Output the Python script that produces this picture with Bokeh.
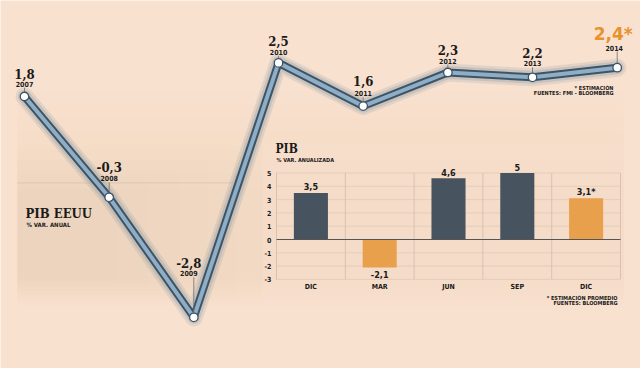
from bokeh.plotting import figure
from bokeh.models import Range1d, Label
from bokeh.core.properties import value
from bokeh.embed import file_html
from bokeh.resources import INLINE

# ---------------- data ----------------
years = [2007, 2008, 2009, 2010, 2011, 2012, 2013, 2014]
gdp = [1.8, -0.3, -2.8, 2.5, 1.6, 2.3, 2.2, 2.4]
gdp_estimate = [False, False, False, False, False, False, False, True]

quarters = ["DIC", "MAR", "JUN", "SEP", "DIC"]
q_growth = [3.5, -2.1, 4.6, 5.0, 3.1]
q_estimate = [False, False, False, False, True]
q_ticks = [5, 4, 3, 2, 1, 0, -1, -2, -3]

# ---------------- style / layout ----------------
BG = "#F9E1D0"
TAN = "#E2C9A8"
DARK = "#3D5467"
LIGHT = "#8FAEC6"
ORANGE = "#E9A04C"
ORANGE_TXT = "#E8922E"
BAR_DARK = "#47535E"
GRID = "#CDB8A6"
SERIF = "DejaVu Serif Condensed"
SANS_C = "DejaVu Sans Condensed"

OX, OY, W, H = 0, 0, 640, 368
# main chart pixel geometry (image coords)
X0PX, PPY = 24.0, 84.67
Y0PX, PPU = 182.4, 48.0
# inset geometry
IX0, ICW = 276.0, 68.8
IY0, IPU = 239.0, 13.3

# label offsets (pixels) for main chart
val_dy = [-23, -30, -54, -22, -25, -23, -24, -34]
year_dy = [-13, -19, -44, -11, -13, -12, -14, -20]
lab_dx = [0, 0, -5, 0, 0, 0, 0, -3]


def mx(px):
    return years[0] + (px - X0PX) / PPY


def my(py):
    return (Y0PX - py) / PPU


def fmt(v):
    if float(v).is_integer():
        return str(int(v))
    return ("%.1f" % v).replace(".", ",")


p = figure(
    width=W, height=H,
    x_range=Range1d(mx(OX), mx(OX + W)),
    y_range=Range1d(my(OY + H), my(OY)),
    output_backend="svg", toolbar_location=None,
    min_border=0, x_axis_location=None, y_axis_location=None,
    background_fill_color=BG, border_fill_color=BG, outline_line_color=None,
)
p.grid.visible = False
p.extra_x_ranges = {"bx": Range1d(-(IX0 - OX) / ICW, (OX + W - IX0) / ICW)}
p.extra_y_ranges = {"by": Range1d(-(OY + H - IY0) / IPU, (IY0 - OY) / IPU)}

# background shading panels (soft gradient)
for k in range(8):
    p.quad(left=mx(17), right=mx(623), top=my(90 + 14 * k), bottom=my(306 - 4 * k),
           fill_color=TAN, fill_alpha=0.035, line_color=None)
for k in range(5):
    p.quad(left=mx(17), right=mx(17 + 220 - 30 * k), top=my(150 + 10 * k),
           bottom=my(300 - 5 * k), fill_color=TAN, fill_alpha=0.04, line_color=None)
p.quad(left=mx(262), right=mx(623), top=my(143), bottom=my(306),
       fill_color=BG, fill_alpha=0.45, line_color=None)

# zero dotted line of main chart
p.segment(x0=mx(17), x1=mx(232), y0=0, y1=0, line_color=GRID, line_width=1,
          line_dash="1 1")

# ---------------- main line ----------------
p.line(years, gdp, line_color="#8E9AA3", line_alpha=0.2, line_width=18,
       line_join="round", line_cap="round")
p.line(years, gdp, line_color="#8E9AA3", line_alpha=0.3, line_width=13,
       line_join="round", line_cap="round")
p.line(years, gdp, line_color=DARK, line_width=8, line_join="round")
p.line(years, gdp, line_color=LIGHT, line_width=4, line_join="round")

# connector ticks from point to year label
p.segment(x0=years, x1=years,
          y0=[v + 4.5 / PPU for v in gdp],
          y1=[v + (-d - 4) / PPU for v, d in zip(gdp, year_dy)],
          line_color="#6B6B6B", line_width=0.8)

p.scatter(years, gdp, size=8.5, fill_color="white", line_color=DARK,
          line_width=1.3)

# value labels
norm = [i for i in range(len(years)) if not gdp_estimate[i]]
est = [i for i in range(len(years)) if gdp_estimate[i]]
p.text(x=[years[i] for i in norm], y=[gdp[i] for i in norm],
       text=[fmt(gdp[i]) for i in norm],
       x_offset=[lab_dx[i] for i in norm], y_offset=[val_dy[i] for i in norm],
       text_align="center", text_baseline="middle",
       text_font=value(SERIF), text_font_style="bold", text_font_size="13px",
       text_color="#1A1A1A")
p.text(x=[years[i] for i in est], y=[gdp[i] for i in est],
       text=[fmt(gdp[i]) + "*" for i in est],
       x_offset=[lab_dx[i] - 1 for i in est], y_offset=[val_dy[i] for i in est],
       text_align="center", text_baseline="middle",
       text_font=value("DejaVu Sans"), text_font_style="bold", text_font_size="17px",
       text_color=ORANGE_TXT)
# year labels
p.text(x=years, y=gdp, text=[str(y) for y in years],
       x_offset=lab_dx, y_offset=year_dy,
       text_align="center", text_baseline="middle",
       text_font=value(SANS_C), text_font_style="bold", text_font_size="7px",
       text_color="#1A1A1A")


# ---------------- annotations (screen units) ----------------
def lab(px, py, txt, size, font=SANS_C, align="left", color="#1A1A1A", style="bold"):
    p.add_layout(Label(x=px - OX, y=H - (py - OY), x_units="screen", y_units="screen",
                       text=txt, text_font=font, text_font_size=size,
                       text_font_style=style, text_color=color,
                       text_align=align, text_baseline="middle"))


lab(25, 213, "PIB EEUU", "13px", font=SERIF)
lab(26, 224, "% VAR. ANUAL", "6px")
lab(613, 87, "* ESTIMACIÓN", "5.5px", align="right")
lab(613, 92.5, "FUENTES: FMI - BLOOMBERG", "5.5px", align="right")
lab(275, 148, "PIB", "12px", font=SERIF)
lab(276, 159, "% VAR. ANUALIZADA", "5.5px")
lab(617, 297, "* ESTIMACIÓN PROMEDIO", "5.5px", align="right")
lab(617, 302.5, "FUENTES: BLOOMBERG", "5.5px", align="right")

# ---------------- inset bar chart ----------------
nq = len(quarters)
kw = dict(x_range_name="bx", y_range_name="by")
p.segment(x0=0, x1=nq, y0=[t for t in q_ticks if t != 0], y1=[t for t in q_ticks if t != 0],
          line_color=GRID, line_width=0.8, line_dash="1 1", **kw)
p.segment(x0=list(range(nq + 1)), x1=list(range(nq + 1)), y0=min(q_ticks), y1=max(q_ticks),
          line_color="#D8C2B0", line_width=1, **kw)
centers = [i + 0.5 for i in range(nq)]
colors = [ORANGE if (v < 0 or e) else BAR_DARK for v, e in zip(q_growth, q_estimate)]
p.vbar(x=centers, top=q_growth, bottom=0, width=0.495, fill_color=colors,
       line_color=None, **kw)
p.segment(x0=0, x1=nq, y0=0, y1=0, line_color="#555555", line_width=1.2, **kw)

# tick labels
p.text(x=0, y=q_ticks, text=[str(t) for t in q_ticks], x_offset=-5,
       text_align="right", text_baseline="middle", text_font=value(SANS_C),
       text_font_style="bold", text_font_size="7px", text_color="#1A1A1A", **kw)
# category labels
p.text(x=centers, y=min(q_ticks), text=quarters, y_offset=8,
       text_align="center", text_baseline="middle", text_font=value(SANS_C),
       text_font_style="bold", text_font_size="7px", text_color="#1A1A1A", **kw)
# bar value labels
btxt = [fmt(v) + ("*" if e else "") for v, e in zip(q_growth, q_estimate)]
p.text(x=centers, y=q_growth, text=btxt,
       y_offset=[-6 if v >= 0 else 7 for v in q_growth],
       text_align="center", text_baseline="middle", text_font=value(SANS_C),
       text_font_style="bold", text_font_size="9px", text_color="#1A1A1A", **kw)

open("out.html", "w").write(file_html(p, INLINE))
